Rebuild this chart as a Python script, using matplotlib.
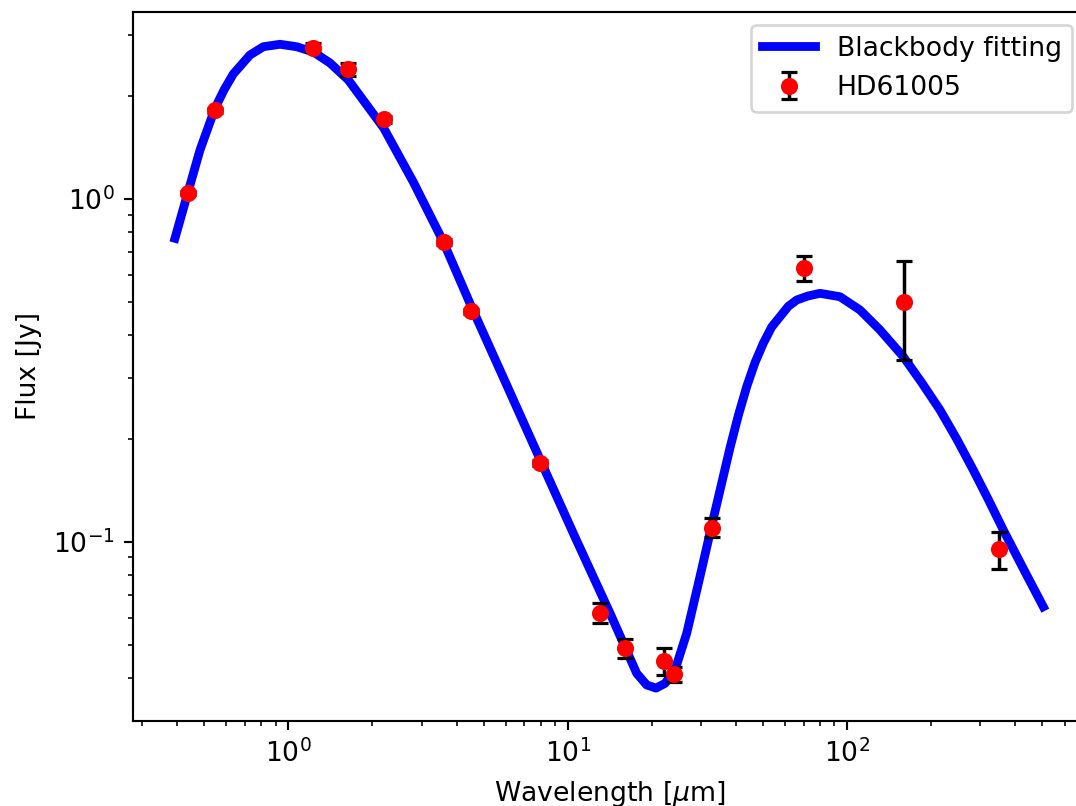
import matplotlib
matplotlib.use("Agg")
import matplotlib.pyplot as plt

# Photometry of HD61005
wavelength = [0.436, 0.547, 1.226, 1.640, 2.195, 3.61, 4.51, 7.96, 13.05,
              16.04, 22.06, 24.07, 32.9, 70.1, 160.2, 350.5]
flux = [1.039, 1.818, 2.764, 2.390, 1.708, 0.749, 0.471, 0.1697, 0.0621,
        0.0489, 0.04496, 0.0410, 0.1099, 0.628, 0.4995, 0.0950]
flux_err = [0.015, 0.03, 0.08, 0.11, 0.04, 0.015, 0.008, 0.003, 0.0041,
            0.0030, 0.0040, 0.0020, 0.0070, 0.052, 0.16, 0.012]

# Blackbody fitting curve (sampled from the figure)
model_wavelength = [0.393, 0.4364, 0.4831, 0.5466, 0.5886, 0.6355, 0.7293,
                    0.8139, 0.9339, 1.0717, 1.2287, 1.410, 1.640, 2.195,
                    2.802, 3.587, 4.496, 6.048, 8.025, 10.62, 14.17, 16.04,
                    17.66, 19.17, 20.70, 22.30, 24.21, 26.66, 29.75, 32.93,
                    38.09, 40.79, 43.72, 46.82, 50.13, 53.72, 57.52, 61.62,
                    66.02, 72.45, 79.98, 94.33, 111.2, 131.2, 158.9, 184.9,
                    215.1, 246.8, 282.9, 320.2, 362.3, 426.1, 503.8]
model_flux = [0.768, 1.039, 1.390, 1.839, 2.080, 2.316, 2.632, 2.782, 2.828,
              2.782, 2.686, 2.494, 2.225, 1.611, 1.121, 0.7507, 0.4905,
              0.2866, 0.1714, 0.1032, 0.0619, 0.0493, 0.0413, 0.0382,
              0.0374, 0.0386, 0.0422, 0.0540, 0.0791, 0.1134, 0.1877,
              0.2333, 0.2834, 0.3332, 0.3793, 0.4232, 0.4535, 0.4862,
              0.5073, 0.5212, 0.5306, 0.5186, 0.4744, 0.4147, 0.3467,
              0.2913, 0.2422, 0.1994, 0.1619, 0.1328, 0.1082, 0.0838,
              0.0646]

DPI = 192
fig = plt.figure(figsize=(1076 / DPI, 806 / DPI), dpi=DPI)
ax = fig.add_axes([133.3 / 1076, 1 - 720.7 / 806,
                   (1085.7 - 133.3) / 1076, (720.7 - 11.7) / 806])

ax.plot(model_wavelength, model_flux, color='b', lw=3.3,
        solid_joinstyle='round', label='Blackbody fitting')
eb = ax.errorbar(wavelength, flux, yerr=flux_err, fmt='o', color='r',
                 ecolor='k', elinewidth=1.3, capsize=2.9, capthick=1.2,
                 markersize=5.4, label='HD61005')
eb[0].set_zorder(3)

ax.set_xscale('log')
ax.set_yscale('log')
ax.set_xlim(0.2788, 714.5)
ax.set_ylim(0.03004, 3.52)
ax.set_xlabel(r'Wavelength [$\mu$m]')
ax.set_ylabel('Flux [Jy]')
ax.legend(loc='upper right')

fig.savefig('out.png', dpi=DPI)
